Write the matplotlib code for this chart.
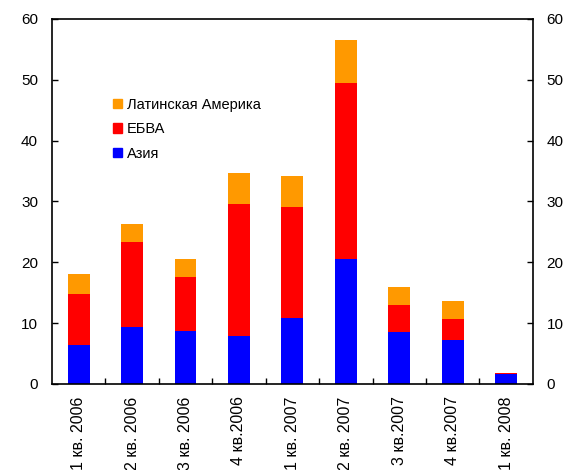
import matplotlib
matplotlib.use("Agg")
import matplotlib.pyplot as plt
from matplotlib.patches import Patch
from matplotlib.ticker import MultipleLocator, FixedLocator
import numpy as np

plt.rcParams['font.family'] = ['Liberation Sans', 'DejaVu Sans']

quarters = ["1 кв. 2006", "2 кв. 2006", "3 кв. 2006", "4 кв.2006", "1 кв. 2007",
            "2 кв. 2007", "3 кв.2007", "4 кв.2007", "1 кв. 2008"]
asia = [6.4, 9.3, 8.7, 7.9, 10.9, 20.5, 8.6, 7.3, 1.7]
ebva = [8.4, 14.1, 8.9, 21.7, 18.2, 29.0, 4.3, 3.4, 0.15]
latam = [3.3, 2.9, 2.9, 5.1, 5.1, 7.0, 3.1, 2.9, 0.0]

c_asia = "#0000ff"
c_ebva = "#ff0000"
c_latam = "#ff9900"

fig = plt.figure(figsize=(5.65, 4.70), dpi=100)
ax = fig.add_axes([0.092, 0.183, 0.851, 0.777])

x = np.arange(len(quarters))
w = 0.41
asia_a = np.array(asia)
ebva_a = np.array(ebva)
latam_a = np.array(latam)
ax.bar(x, asia_a, w, color=c_asia, zorder=2)
ax.bar(x, ebva_a, w, bottom=asia_a, color=c_ebva, zorder=2)
ax.bar(x, latam_a, w, bottom=asia_a + ebva_a, color=c_latam, zorder=2)

ax.set_xlim(-0.5, len(quarters) - 0.5)
ax.set_ylim(0, 60)
ax.yaxis.set_major_locator(MultipleLocator(10))

ax.set_xticks(x)
ax.set_xticklabels(quarters, rotation=90, fontsize=11.5)
ax.tick_params(axis='x', which='major', length=0, pad=9)
ax.xaxis.set_minor_locator(FixedLocator(np.arange(0.5, len(quarters) - 1, 1.0)))
ax.tick_params(axis='x', which='minor', direction='in', length=4, width=1)

ax.tick_params(axis='y', direction='in', length=4, width=1, labelsize=11,
               left=True, right=True, labelleft=True, labelright=True, pad=10)

for s in ax.spines.values():
    s.set_linewidth(1.2)
    s.set_color('black')

handles = [Patch(color=c_latam, label="Латинская Америка"),
           Patch(color=c_ebva, label="ЕБВА"),
           Patch(color=c_asia, label="Азия")]
ax.legend(handles=handles, loc='upper left', bbox_to_anchor=(0.115, 0.8),
          frameon=False, fontsize=10.5, handlelength=0.6, handleheight=0.6,
          handletextpad=0.35, labelspacing=0.72, borderaxespad=0)

fig.savefig("out.png", dpi=100)
